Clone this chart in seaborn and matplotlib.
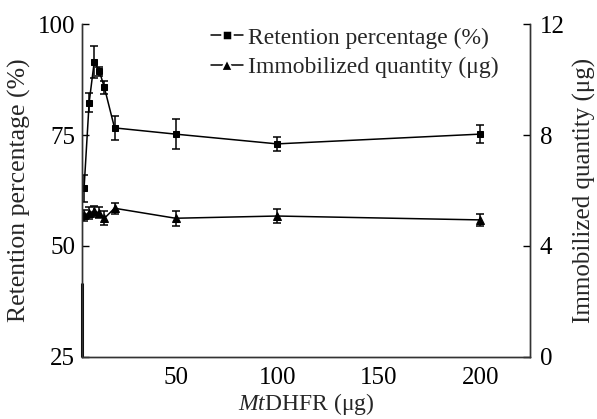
import matplotlib
matplotlib.use("Agg")
import matplotlib.pyplot as plt
import seaborn as sns
import pandas as pd
from matplotlib.lines import Line2D

sns.set_style("white")
plt.rcParams['font.family'] = ['Liberation Serif', 'DejaVu Serif']
plt.rcParams['mathtext.fontset'] = 'custom'
plt.rcParams['mathtext.rm'] = 'Liberation Serif'
plt.rcParams['mathtext.it'] = 'Liberation Serif:italic'

# Data
dhfr = [5, 7.5, 10, 12.5, 15, 20, 50, 100, 200]
retention = [63.0, 82.3, 91.5, 89.4, 85.7, 76.6, 75.2, 73.0, 75.2]
retention_err = [3.0, 2.1, 3.6, 1.0, 1.5, 2.7, 3.4, 1.6, 2.0]
immob = [5.1, 5.2, 5.25, 5.2, 5.0, 5.36, 5.0, 5.08, 4.94]
immob_err = [0.2, 0.22, 0.2, 0.2, 0.25, 0.2, 0.27, 0.25, 0.23]

left_ticks = [25, 50, 75, 100]
right_ticks = [0, 4, 8, 12]
x_ticks = [50, 100, 150, 200]

df = pd.DataFrame({"x": dhfr, "ret": retention, "ret_err": retention_err,
                   "imm": immob, "imm_err": immob_err})

fig = plt.figure(figsize=(5.97, 4.19), dpi=100)
ax = fig.add_axes([0.1374, 0.148, 0.7506, 0.7947])
ax2 = ax.twinx()

fs = 18
lw = 1.1

sns.lineplot(data=df, x="x", y="ret", ax=ax, color="black", lw=lw,
             marker="s", markersize=4.5, markeredgecolor="black", legend=False)
ax.errorbar(df["x"], df["ret"], yerr=df["ret_err"], fmt="none", ecolor="black",
            elinewidth=1.1, capsize=2.8, capthick=1.1)

sns.lineplot(data=df, x="x", y="imm", ax=ax2, color="black", lw=lw,
             marker="^", markersize=5.5, markeredgecolor="black", legend=False)
ax2.errorbar(df["x"], df["imm"], yerr=df["imm_err"], fmt="none", ecolor="black",
             elinewidth=1.1, capsize=2.8, capthick=1.1)

ax.set_xlim(4, 224.5)
ax.set_ylim(25, 100)
ax2.set_ylim(0, 12)
ax.set_xticks(x_ticks)
ax.set_yticks(left_ticks)
ax2.set_yticks(right_ticks)

for a in (ax, ax2):
    a.spines['top'].set_visible(False)
    for s in a.spines.values():
        s.set_linewidth(1.0)
        s.set_color("#333333")
    a.tick_params(direction="in", length=5, width=1.0, labelsize=fs, colors="black", pad=5)
ax.tick_params(axis="x", pad=7)
ax2.tick_params(axis="y", pad=7)

# darker lower segment of the left spine (as in the reference scan)
ax.plot([4, 4], [25, 41.7], color="black", lw=2.2, clip_on=False, solid_capstyle="butt")

ax.set_xlabel(r"$\it{Mt}$DHFR (μg)", fontsize=17, labelpad=2)
ax.set_ylabel("Retention percentage (%)", fontsize=18.5, labelpad=5)
ax2.set_ylabel("Immobilized quantity (μg)", fontsize=18, labelpad=6)

handles = [
    Line2D([0], [0], color="black", lw=lw, marker="s", markersize=6.5,
           markerfacecolor="black", markeredgecolor="white", markeredgewidth=1.8),
    Line2D([0], [0], color="black", lw=lw, marker="^", markersize=8,
           markerfacecolor="black", markeredgecolor="white", markeredgewidth=1.6),
]
ax.legend(handles, ["Retention percentage (%)", "Immobilized quantity (μg)"],
          loc="upper left", bbox_to_anchor=(0.288, 0.991), frameon=False,
          fontsize=17, handlelength=1.35, handletextpad=0.2, labelspacing=0.33,
          borderaxespad=0.0, borderpad=0.0)

fig.savefig("out.png", dpi=100)
